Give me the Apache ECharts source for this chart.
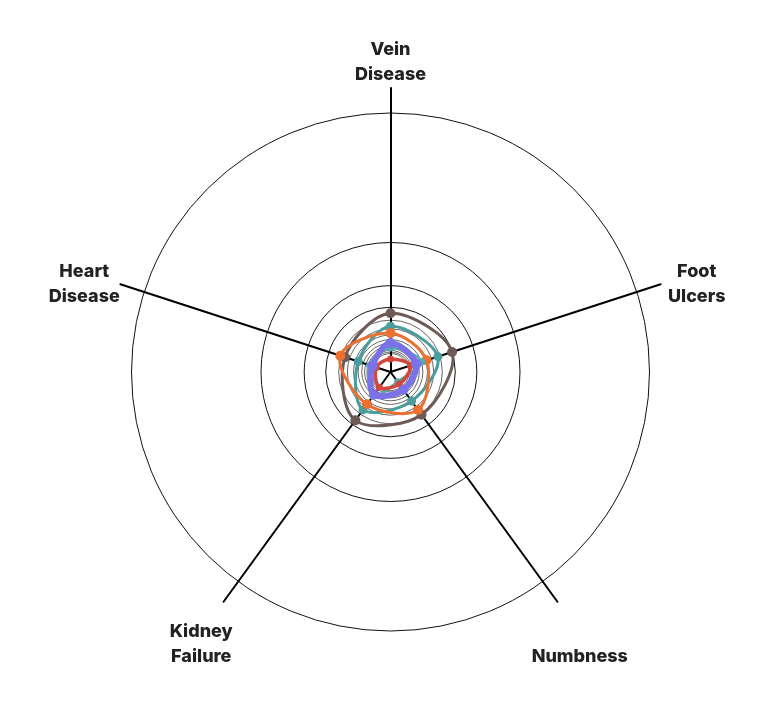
<!DOCTYPE html>
<html><head><meta charset="utf-8">
<script src="https://cdn.jsdelivr.net/npm/echarts@6/dist/echarts.min.js"></script>
<style>html,body{margin:0;padding:0;background:#fff}#c{width:781px;height:720px}</style>
</head><body><div id="c"></div>
<script>
// categories, clockwise from the top
const categories = ['Vein\nDisease', 'Foot\nUlcers', 'Numbness', 'Kidney\nFailure', 'Heart\nDisease'];
// series values (same order as categories), radial units with max 260
const brownValues  = [59, 65, 53, 60, 48];
const tealValues   = [46, 50, 36, 47, 34];
const orangeValues = [39, 38, 47, 40, 53];
const teal2Values  = [24, 33, 12, 30, 22];
const redValues    = [13, 21, 15, 19, 15];
const purpleValues = [29, 27, 22, 28, 19];
const radialMax = 260;
// concentric guide circles: outer radius divided by these
const ringDivisors = [1, 2, 3, 4, 5, 6, 7, 8, 9, 10, 11, 12, 13, 14];

const CX = 390.5, CY = 372, R = 259;
const chart = echarts.init(document.getElementById('c'));

// radar indicators go counter-clockwise; reorder so the picture reads clockwise
const ccw = [0, 4, 3, 2, 1].map(i => categories[i]);

const radars = [];
ringDivisors.forEach(k => {
  radars.push({
    center: [CX, CY], radius: R / k, shape: 'circle', splitNumber: 1,
    indicator: ccw.map(() => ({ name: '', max: radialMax })),
    axisLine: { show: false }, splitArea: { show: false },
    axisName: { show: false },
    splitLine: { lineStyle: { color: k <= 4 ? '#111' : '#666', width: 1 } }
  });
});
// axis spokes
radars.push({
  center: [CX, CY], radius: 284, shape: 'circle', splitNumber: 1,
  indicator: ccw.map(() => ({ name: '', max: radialMax })),
  axisLine: { lineStyle: { color: '#000', width: 2 } },
  splitLine: { show: false }, splitArea: { show: false }, axisName: { show: false }
});
// names
const nameFont = { fontFamily: 'Inter', fontWeight: 800, fontSize: 18, lineHeight: 25, color: '#222' };
radars.push({
  center: [CX, CY + 12], radius: 290, nameGap: 32, shape: 'circle', splitNumber: 1,
  indicator: ccw.map(n => ({ name: n, max: radialMax })),
  axisLine: { show: false }, splitLine: { show: false }, splitArea: { show: false },
  axisName: Object.assign({}, nameFont, {
    align: 'center', verticalAlign: 'middle',
    formatter: n => n === 'Numbness' ? '{s|' + n + '}' : n,
    rich: { s: Object.assign({}, nameFont, { padding: [25, 0, 0, 0] }) }
  })
});

const angleOf = (i, n) => i * 360 / n;

// closed smooth outline through the series' points, via the polar coordinate system
function outline(name, vals, color, width, z) {
  const n = vals.length;
  return {
    name, type: 'custom', coordinateSystem: 'polar', z,
    data: vals.map((v, i) => [v, angleOf(i, n)]),
    renderItem(params, api) {
      if (params.dataIndex !== 0) return null;
      const pts = vals.map((v, i) => api.coord([v, angleOf(i, n)]));
      return {
        type: 'polygon',
        shape: { points: pts, smooth: 1 / 3 },
        style: { fill: 'none', stroke: color, lineWidth: width, lineJoin: 'round' }
      };
    }
  };
}
function dots(name, vals, color, size, z) {
  const n = vals.length;
  return {
    name, type: 'scatter', coordinateSystem: 'polar', z,
    data: vals.map((v, i) => [v, angleOf(i, n)]),
    symbol: 'circle', symbolSize: size, itemStyle: { color, opacity: 1 }
  };
}
const styles = [
  ['brown', brownValues, '#6e5a57', 3, 10],
  ['teal', tealValues, '#4a9d9c', 3, 9],
  ['orange', orangeValues, '#ea7130', 3, 10],
  ['teal2', teal2Values, '#55a9b0', 2.5, 7],
  ['red', redValues, '#d2473d', 3.5, 7],
  ['purple', purpleValues, '#7a72e6', 6, 10]
];
const series = [];
styles.forEach((s, k) => {
  series.push(outline(s[0], s[1], s[2], s[3], 10 + 2 * k));
  series.push(dots(s[0], s[1], s[2], s[4], 11 + 2 * k));
});

chart.setOption({
  animation: false,
  backgroundColor: '#fff',
  radar: radars,
  polar: { center: [CX, CY], radius: R },
  angleAxis: { type: 'value', min: 0, max: 360, startAngle: 90, clockwise: true, show: false },
  radiusAxis: { type: 'value', min: 0, max: radialMax, show: false },
  series
});
</script></body></html>
